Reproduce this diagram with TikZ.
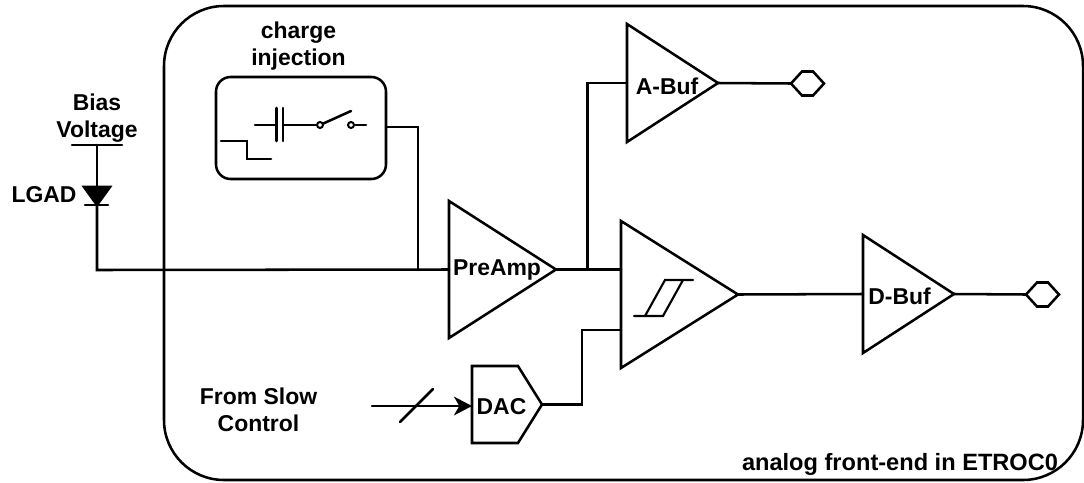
\documentclass[tikz,border=0pt]{standalone}
\usepackage{fontspec}
\setmainfont{Liberation Sans}
\usetikzlibrary{shapes.geometric,shapes.symbols,arrows.meta}
\tikzset{
  x=0.75pt,y=-0.75pt,
  wire/.style={line width=1.9pt,line cap=round,line join=miter},
  tri/.style={draw,line width=1.9pt,isosceles triangle,isosceles triangle stretches,inner sep=0pt,outer sep=0pt,anchor=apex},
  pad/.style={draw,line width=1.9pt,signal,signal to=east and west,signal pointer angle=95,inner sep=0pt,outer sep=0pt,minimum width=33*0.75pt,minimum height=24*0.75pt,anchor=east},
  lab/.style={font=\bfseries\fontsize{17.2pt}{20.5pt}\selectfont,align=center,inner sep=0pt},
}
\begin{document}
\begin{tikzpicture}
\useasboundingbox (0,0) rectangle (1084,482);
\node[draw,line width=1.9pt,rounded corners=45pt,minimum width=919*0.75pt,minimum height=474*0.75pt,inner sep=0pt,outer sep=0pt] (frame) at (623.5,243) {};
\node[draw,line width=1.9pt,rounded corners=11pt,minimum width=170*0.75pt,minimum height=102*0.75pt,inner sep=0pt,outer sep=0pt] (inj) at (301,128) {};
\node[tri,minimum height=107*0.75pt,minimum width=137*0.75pt] (pre) at (556,269.5) {};
\node[tri,minimum height=117*0.75pt,minimum width=147*0.75pt] (cmp) at (738,294.5) {};
\node[tri,minimum height=91*0.75pt,minimum width=118*0.75pt] (abuf) at (718,83) {};
\node[tri,minimum height=91*0.75pt,minimum width=118*0.75pt] (dbuf) at (954,294) {};
\node[draw,line width=1.9pt,signal,signal to=east,signal pointer angle=116,inner sep=0pt,outer sep=0pt,minimum width=70*0.75pt,minimum height=77*0.75pt,anchor=east] (dac) at (542,404.5) {};
\node[pad] (hexa) at (824,83.5) {};
\node[pad] (hexd) at (1059,294.5) {};
\node[lab] (tpre) at (497,270) {PreAmp};
\node[lab] (tabuf) at (667,86) {A-Buf};
\node[lab] (tdbuf) at (899.5,296) {D-Buf};
\node[lab] (tdac) at (501.5,407) {DAC};
\node[lab] (tinj) at (298.5,46) {charge\\injection};
\node[lab] (tbias) at (97,118) {Bias\\Voltage};
\node[lab] (tlgad) at (44,195) {LGAD};
\node[lab] (tslow) at (258.5,410) {From Slow\\Control};
\node[lab,font=\bfseries\fontsize{17.7pt}{20pt}\selectfont] (tfe) at (900,464) {analog front-end in ETROC0};
% bias and LGAD
\coordinate (bl) at (72,145); \coordinate (br) at (122,145);
\coordinate (bm) at (97,145); \coordinate (dtop) at (97,187); \coordinate (dbot) at (97,205);
\coordinate (join) at (418,270);
\draw[wire] (bl) -- (br);
\draw[wire] (bm) -- (dtop);
\draw[wire,fill=black,line join=miter] (84,187) -- (110,187) -- (dbot) -- cycle;
\draw[wire] (85,205) -- (108,205);
\draw[wire] (dbot) -- (97,270) -- (pre.lower side);
\draw[wire] (inj.east |- 0,127) -- (418,127) -- (join);
% outputs
\coordinate (tapa) at (587.5,269.5);
\draw[wire] (pre.apex) -- (cmp.lower side |- pre.apex);
\draw[wire] (tapa) -- (587.5,83) -- (abuf.lower side);
\draw[wire] (abuf.apex) -- (hexa.west);
\draw[wire] (cmp.apex) -- (dbuf.lower side);
\draw[wire] (dbuf.apex) -- (hexd.west);
\draw[wire] (dac.east) -- (582,404.5) -- (582,330) -- (cmp.lower side |- 0,330);
% DAC input
\coordinate (sl) at (372,406);
\draw[wire,-{Stealth[length=13.5pt,width=14pt,inset=4pt]}] (sl) -- (dac.west |- sl);
\draw[line width=1.9pt,line cap=round] (400,422) -- (433,389);
% charge injection inner
\draw[wire] (221,141) -- (247,141) -- (247,159) -- (271,159);
\draw[wire] (255,125) -- (276,125);
\draw[wire] (276.5,108) -- (276.5,141);
\draw[wire] (283,108) -- (283,141);
\draw[wire] (283,125) -- (316,125);
\node[draw,circle,line width=1.5pt,minimum size=6*0.75pt,inner sep=0pt] (s1) at (320,125) {};
\node[draw,circle,line width=1.5pt,minimum size=6*0.75pt,inner sep=0pt] (s2) at (351,125) {};
\draw[wire] (s1) -- (351,111);
\draw[wire] (s2) -- (366,125);
% hysteresis
\draw[line width=1.6pt,line cap=round,line join=miter] (634,316) -- (663,316) -- (683,280) -- (693,280) (683,280) -- (665,280) -- (645,316);
\end{tikzpicture}
\end{document}
